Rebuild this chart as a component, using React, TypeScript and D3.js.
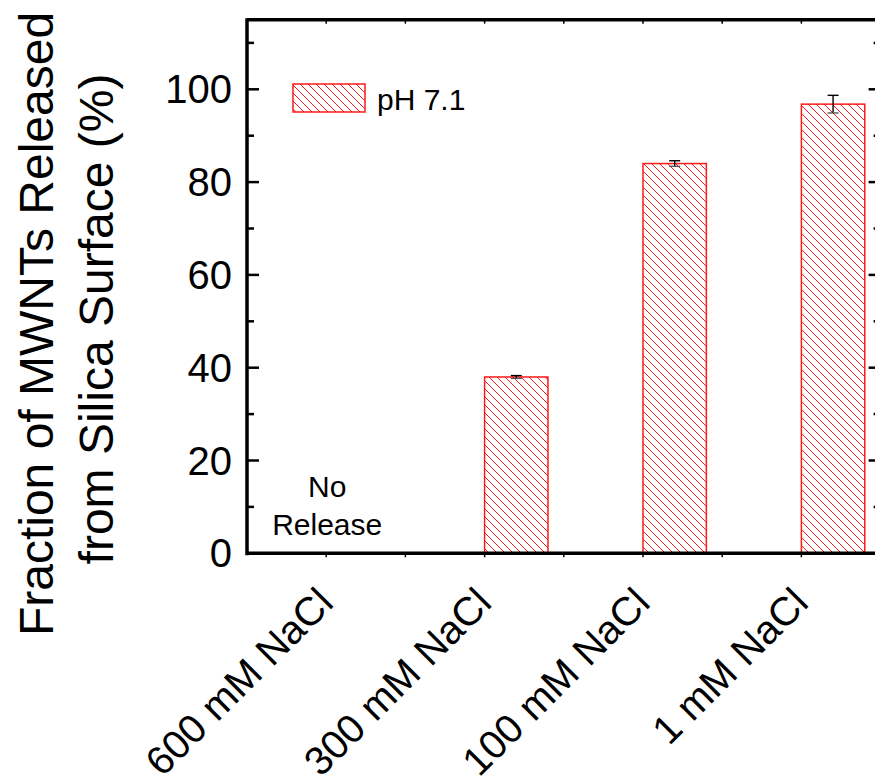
import React, { useEffect, useRef } from "react";
import * as d3 from "d3";

const categories = ["600 mM NaCl", "300 mM NaCl", "100 mM NaCl", "1 mM NaCl"];
const released: (number | null)[] = [null, 38, 84, 96.8];
const releasedErr: (number | null)[] = [null, 0.3, 0.6, 1.9];
const yTicks = [0, 20, 40, 60, 80, 100];
const seriesName = "pH 7.1";
const noReleaseNote = ["No", "Release"];
const yTitle = ["Fraction of MWNTs Released", "from Silica Surface (%)"];

const RED = "#ff1a1a";
const FONT = "'Liberation Sans', Arial, Helvetica, sans-serif";

export default function App() {
  const ref = useRef<SVGSVGElement>(null);

  useEffect(() => {
    const svg = d3.select(ref.current);
    svg.selectAll("*").remove();

    const left = 247, right = 880.6, top = 19.7, bottom = 553.3;

    const x = d3.scaleLinear().domain([0, 4]).range([left, right]);
    const y = d3.scaleLinear().domain([0, 115]).range([bottom, top]);

    // hatch pattern
    const defs = svg.append("defs");
    const pat = defs.append("pattern")
      .attr("id", "hatch")
      .attr("patternUnits", "userSpaceOnUse")
      .attr("width", 8)
      .attr("height", 8);
    pat.append("rect").attr("width", 8).attr("height", 8).attr("fill", "#fff");
    pat.append("path")
      .attr("d", "M-2,-2 L10,10 M-2,6 L2,10 M6,-2 L10,2")
      .attr("stroke", RED)
      .attr("stroke-width", 1);

    // bars
    const barW = 0.4;
    categories.forEach((c, i) => {
      const v = released[i];
      if (v == null) return;
      const x0 = x(i + 0.5);
      const x1 = x(i + 0.5 + barW);
      svg.append("rect")
        .attr("x", x0)
        .attr("y", y(v))
        .attr("width", x1 - x0)
        .attr("height", y(0) - y(v))
        .attr("fill", "url(#hatch)")
        .attr("stroke", RED)
        .attr("stroke-width", 1.5);

      const e = releasedErr[i] || 0;
      const cx = (x0 + x1) / 2;
      const eb = svg.append("g").attr("stroke", "#000").attr("stroke-width", 1.4);
      eb.append("line").attr("x1", cx).attr("x2", cx).attr("y1", y(v + e)).attr("y2", y(v - e));
      eb.append("line").attr("x1", cx - 5.5).attr("x2", cx + 5.5).attr("y1", y(v + e)).attr("y2", y(v + e));
      eb.append("line").attr("x1", cx - 5.5).attr("x2", cx + 5.5).attr("y1", y(v - e)).attr("y2", y(v - e))
        .attr("stroke", "#555");
    });

    // no release note
    const note = svg.append("text")
      .attr("text-anchor", "middle")
      .attr("font-family", FONT)
      .attr("font-size", 30)
      .attr("fill", "#000");
    noReleaseNote.forEach((t, k) => {
      note.append("tspan").attr("x", x(0.5) + 1).attr("y", 497 + k * 38).text(t);
    });

    // frame
    const frame = svg.append("g").attr("stroke", "#000").attr("fill", "none");
    frame.append("path")
      .attr("d", `M${left},${top} L${right},${top} M${left},${top - 1.5} L${left},${bottom + 2} M${left - 1.5},${bottom} L${right},${bottom} M${right},${top} L${right},${bottom}`)
      .attr("stroke-width", 3.5);

    // y ticks (inward on both sides)
    d3.range(0, 115, 10).forEach(v => {
      const major = v % 20 === 0;
      const len = major ? 12 : 7;
      frame.append("line").attr("x1", left).attr("x2", left + len).attr("y1", y(v)).attr("y2", y(v)).attr("stroke-width", 2.5);
      frame.append("line").attr("x1", right).attr("x2", right - len).attr("y1", y(v)).attr("y2", y(v)).attr("stroke-width", 2.5);
    });

    // x minor ticks top/bottom
    d3.range(0.5, 4, 0.5).forEach(t => {
      frame.append("line").attr("x1", x(t)).attr("x2", x(t)).attr("y1", bottom).attr("y2", bottom + 4).attr("stroke-width", 1.5);
      frame.append("line").attr("x1", x(t)).attr("x2", x(t)).attr("y1", top).attr("y2", top + 4).attr("stroke-width", 1.5);
    });

    // y tick labels
    svg.append("g").selectAll("text")
      .data(yTicks)
      .enter().append("text")
      .attr("x", 232)
      .attr("y", d => y(d))
      .attr("dy", "0.35em")
      .attr("text-anchor", "end")
      .attr("font-family", FONT)
      .attr("font-size", 40)
      .attr("fill", "#000")
      .text(d => d);

    // x tick labels
    svg.append("g").selectAll("text")
      .data(categories)
      .enter().append("text")
      .attr("transform", (d, i) => `translate(${x(i + 0.5) + 9},${605}) rotate(-45)`)
      .attr("text-anchor", "end")
      .attr("font-family", FONT)
      .attr("font-size", 40)
      .attr("fill", "#000")
      .text(d => d);

    // y title
    const titleX = [53, 113];
    const titleY = [324, 319];
    yTitle.forEach((t, k) => {
      svg.append("text")
        .attr("transform", `translate(${titleX[k]},${titleY[k]}) rotate(-90)`)
        .attr("text-anchor", "middle")
        .attr("font-family", FONT)
        .attr("font-size", 48)
        .attr("fill", "#000")
        .text(t);
    });

    // legend
    svg.append("rect")
      .attr("x", 293)
      .attr("y", 84)
      .attr("width", 72)
      .attr("height", 28)
      .attr("fill", "url(#hatch)")
      .attr("stroke", RED)
      .attr("stroke-width", 1.5);
    svg.append("text")
      .attr("x", 377)
      .attr("y", 110)
      .attr("font-family", FONT)
      .attr("font-size", 30)
      .attr("fill", "#000")
      .text(seriesName);
  }, []);

  return (
    <svg
      ref={ref}
      width={875}
      height={782}
      style={{ position: "absolute", left: 0, top: 0, background: "#fff" }}
    />
  );
}
